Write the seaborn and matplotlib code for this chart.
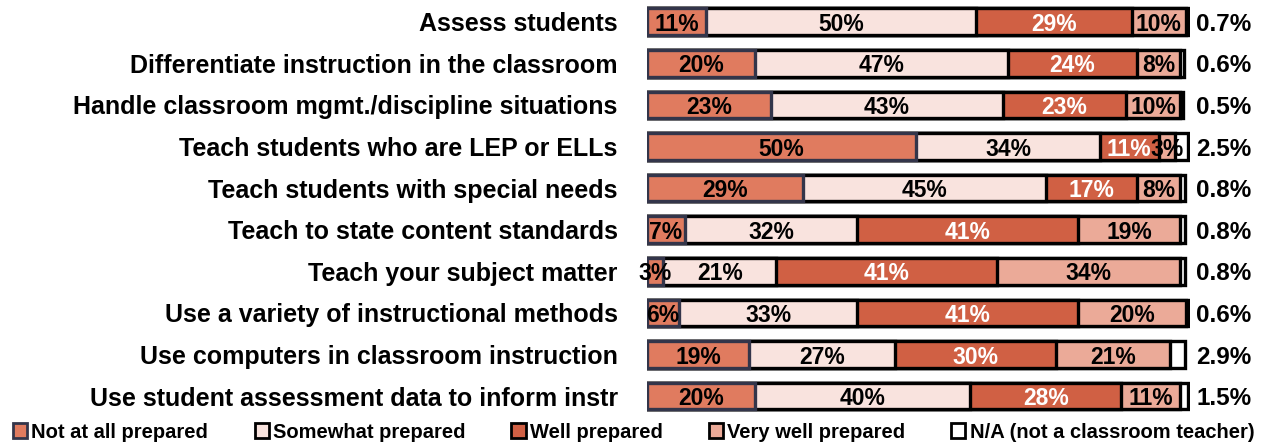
import matplotlib
matplotlib.use("Agg")
import matplotlib.pyplot as plt
import seaborn as sns
import numpy as np
import pandas as pd
from matplotlib.patches import Patch

categories = [
    "Assess students",
    "Differentiate instruction in the classroom",
    "Handle classroom mgmt./discipline situations",
    "Teach students who are LEP or ELLs",
    "Teach students with special needs",
    "Teach to state content standards",
    "Teach your subject matter",
    "Use a variety of instructional methods",
    "Use computers in classroom instruction",
    "Use student assessment data to inform instr",
]
series_names = ["Not at all prepared", "Somewhat prepared", "Well prepared",
                "Very well prepared", "N/A (not a classroom teacher)"]
not_at_all = [11, 20, 23, 50, 29, 7, 3, 6, 19, 20]
somewhat = [50, 47, 43, 34, 45, 32, 21, 33, 27, 40]
well = [29, 24, 23, 11, 17, 41, 41, 41, 30, 28]
very_well = [10, 8, 10, 3, 8, 19, 34, 20, 21, 11]
na = [0.7, 0.6, 0.5, 2.5, 0.8, 0.8, 0.8, 0.6, 2.9, 1.5]

colors = ["#E07B5F", "#F9E3DE", "#D06044", "#EBAA98", "#FFFFFF"]
edges = ["#33354A", "#000000", "#000000", "#000000", "#000000"]
text_colors = ["black", "black", "white", "black", None]

sns.set_theme(style="white")
plt.rcParams["font.family"] = ["Liberation Sans", "DejaVu Sans"]
plt.rcParams["text.color"] = "black"

series = [not_at_all, somewhat, well, very_well, na]
vals = np.array(series, dtype=float)
cum = np.cumsum(vals, axis=0)

fig = plt.figure(figsize=(12.75, 4.45), dpi=100)
ax = fig.add_axes([647 / 1275, 0.063, 543 / 1275, 0.935])

df = pd.DataFrame({"cat": categories})
for i in reversed(range(5)):
    df["v"] = cum[i]
    sns.barplot(data=df, x="v", y="cat", orient="h", color=colors[i],
                edgecolor=edges[i], linewidth=2.4, width=0.64, ax=ax,
                saturation=1)

for i in range(4):
    for j in range(len(categories)):
        start = cum[i][j] - vals[i][j]
        ax.text(start + vals[i][j] / 2, j, f"{vals[i][j]:.0f}%", ha="center",
                va="center_baseline", color=text_colors[i], fontsize=16.5,
                fontweight="bold")
for j in range(len(categories)):
    ax.text(102.0, j, f"{na[j]}%", ha="left", va="center_baseline",
            color="black", fontsize=17.5, fontweight="bold")

ax.set_xlim(0, 100.8)
ax.set_ylim(len(categories) - 0.5, -0.5)
ax.set_xlabel("")
ax.set_ylabel("")
ax.set_xticks([])
ax.tick_params(axis="y", length=0, pad=21, labelcolor="black")
for lab in ax.get_yticklabels():
    lab.set_fontsize(18)
    lab.set_fontweight("bold")
    lab.set_verticalalignment("center_baseline")
for s in ax.spines.values():
    s.set_visible(False)

handles = [Patch(facecolor=colors[i], edgecolor=edges[i],
                 linewidth=2, label=series_names[i]) for i in range(5)]
fig.legend(handles=handles, loc="center", bbox_to_anchor=(0.497, 0.029),
           ncol=5, frameon=False, handlelength=0.7, handleheight=0.7,
           handletextpad=0.2, columnspacing=2.3,
           prop={"size": 14.5, "weight": "bold"})

fig.savefig("out.png", dpi=100)
